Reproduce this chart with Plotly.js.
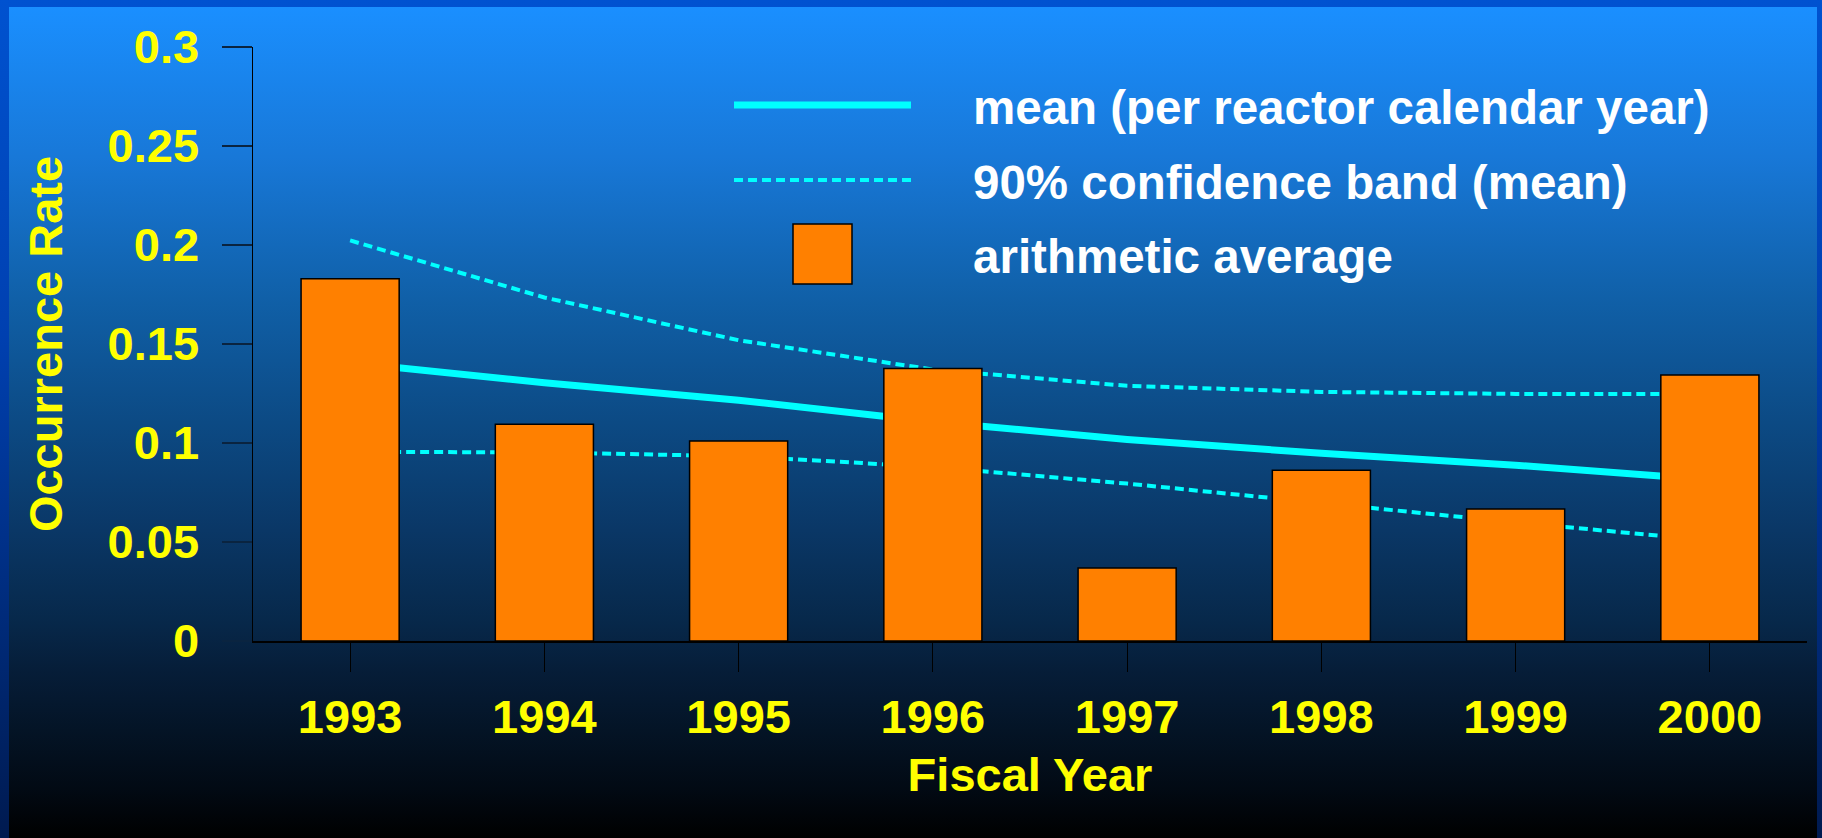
<!DOCTYPE html>
<html>
<head>
<meta charset="utf-8">
<script src="https://cdn.plot.ly/plotly-3.0.1.min.js"></script>
<style>
  html, body { margin: 0; padding: 0; background: #000; }
  #wrap { position: relative; width: 1822px; height: 838px; overflow: hidden;
          background: linear-gradient(to bottom, #0052d0 0%, #0040b0 40%, #002a78 75%, #001a50 100%); }
  #grad { position: absolute; left: 9px; top: 7px; width: 1808px; height: 831px;
          background: linear-gradient(to bottom,
            #1a8fff 0%, #1878d8 18%, #1060a8 35%, #0c4a84 50%, #0a3766 63%,
            #07284a 74%, #061d38 80%, #041426 87%, #020a14 94%, #000000 100%); }
  #chart { position: absolute; left: 0; top: 0; width: 1822px; height: 838px; }
</style>
</head>
<body>
<div id="wrap">
  <div id="grad"></div>
  <div id="chart"></div>
</div>
<script>
// ---- data ----
var years = [1993, 1994, 1995, 1996, 1997, 1998, 1999, 2000];
var tickLabels = ["1993", "1994", "1995", "1996", "1997", "1998", "1999", "2000"];
var arithmeticAverage = [0.183, 0.1095, 0.101, 0.1376, 0.0369, 0.0863, 0.0667, 0.1344];
var meanRate = [0.1405, 0.1304, 0.1216, 0.1107, 0.1018, 0.0948, 0.0888, 0.0814];
var upperBand = [0.2023, 0.1735, 0.1519, 0.1371, 0.1289, 0.1258, 0.1248, 0.1248];
var lowerBand = [0.0955, 0.0953, 0.0933, 0.0879, 0.0795, 0.0695, 0.0599, 0.0508];
var legendNames = ["mean (per reactor calendar year)", "90% confidence band (mean)", "arithmetic average"];
var yTickVals = [0, 0.05, 0.1, 0.15, 0.2, 0.25, 0.3];
var yTickText = ["0", "0.05", "0.1", "0.15", "0.2", "0.25", "0.3"];

var FONT = "Liberation Sans, Arial, Helvetica, sans-serif";
var CYAN = "#00ffff";
var ORANGE = "#ff8000";
var YELLOW = "#ffff00";
var DASH = "9px,5px";

var traces = [
  { type: "scatter", mode: "lines", x: years, y: upperBand, name: legendNames[1],
    line: { color: CYAN, width: 4, dash: DASH }, xaxis: "x", yaxis: "y", hoverinfo: "x+y" },
  { type: "scatter", mode: "lines", x: years, y: lowerBand, name: legendNames[1],
    line: { color: CYAN, width: 4, dash: DASH }, xaxis: "x", yaxis: "y", hoverinfo: "x+y" },
  { type: "scatter", mode: "lines", x: years, y: meanRate, name: legendNames[0],
    line: { color: CYAN, width: 7 }, xaxis: "x", yaxis: "y", hoverinfo: "x+y" },
  { type: "bar", x: years, y: arithmeticAverage, name: legendNames[2], width: 0.505,
    marker: { color: ORANGE, line: { color: "#000000", width: 1.5 } },
    xaxis: "x2", yaxis: "y2", hoverinfo: "x+y" }
];

var L = 253, R = 1807, T = 47, B = 640.7;
function px(x) { return (x - L) / (R - L); }
function py(y) { return (B - y) / (B - T); }

var legendFont = { family: FONT, size: 47.5, color: "#ffffff", weight: "bold" };

var layout = {
  width: 1822, height: 838,
  margin: { l: L, r: 1822 - R, t: T, b: 838 - B, pad: 0 },
  paper_bgcolor: "rgba(0,0,0,0)",
  plot_bgcolor: "rgba(0,0,0,0)",
  showlegend: false,
  font: { family: FONT, size: 47, color: YELLOW, weight: "bold" },
  xaxis: {
    range: [1992.5, 2000.5], fixedrange: true,
    tickmode: "array", tickvals: years, ticktext: tickLabels,
    ticks: "outside", ticklen: 29, tickwidth: 1, tickcolor: "#000000",
    showline: true, linecolor: "#000000", linewidth: 2,
    showgrid: false, zeroline: false,
    ticklabelstandoff: 5,
    tickfont: { family: FONT, size: 47, color: YELLOW, weight: "bold" },
    title: { text: "Fiscal Year", standoff: 16,
             font: { family: FONT, size: 47, color: YELLOW, weight: "bold" } }
  },
  yaxis: {
    range: [0, 0.3], fixedrange: true,
    tickmode: "array", tickvals: yTickVals, ticktext: yTickText,
    ticks: "outside", ticklen: 30, tickwidth: 2, tickcolor: "#0a2440",
    showline: true, linecolor: "#000000", linewidth: 1.5,
    showgrid: false, zeroline: false,
    ticklabelstandoff: 13,
    tickfont: { family: FONT, size: 47, color: YELLOW, weight: "bold" },
    title: { text: "Occurrence Rate", standoff: 30,
             font: { family: FONT, size: 47, color: YELLOW, weight: "bold" } }
  },
  xaxis2: { overlaying: "x", range: [1992.5, 2000.5], visible: false, fixedrange: true },
  yaxis2: { overlaying: "y", range: [0, 0.3], visible: false, fixedrange: true },
  shapes: [
    { type: "line", xref: "paper", yref: "paper", x0: px(734), x1: px(911), y0: py(105), y1: py(105),
      line: { color: CYAN, width: 7 } },
    { type: "line", xref: "paper", yref: "paper", x0: px(734), x1: px(911), y0: py(180), y1: py(180),
      line: { color: CYAN, width: 4, dash: DASH } },
    { type: "rect", xref: "paper", yref: "paper", x0: px(793), x1: px(852), y0: py(284), y1: py(224),
      fillcolor: ORANGE, line: { color: "#000000", width: 1.5 } }
  ],
  annotations: [
    { xref: "paper", yref: "paper", x: px(971), y: py(107), xanchor: "left", yanchor: "middle",
      text: legendNames[0], showarrow: false, font: legendFont },
    { xref: "paper", yref: "paper", x: px(971), y: py(182), xanchor: "left", yanchor: "middle",
      text: legendNames[1], showarrow: false, font: legendFont },
    { xref: "paper", yref: "paper", x: px(971), y: py(256), xanchor: "left", yanchor: "middle",
      text: legendNames[2], showarrow: false, font: legendFont }
  ]
};

Plotly.newPlot("chart", traces, layout, { displayModeBar: false, staticPlot: true });
</script>
</body>
</html>
